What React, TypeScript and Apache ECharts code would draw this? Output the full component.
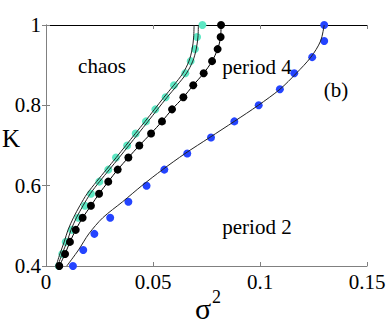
import React, { useEffect, useRef } from "react";
import * as echarts from "echarts";

// ---- data (sigma^2 vs K) ----
const xTicks = [0, 0.05, 0.1, 0.15];
const yTicks = [0.4, 0.6, 0.8, 1];

// blue points (period 2 boundary, simulation)
const blueK = [0.40, 0.44, 0.48, 0.52, 0.56, 0.60, 0.64, 0.68, 0.72, 0.76, 0.80, 0.84, 0.88, 0.92, 0.96, 1.00];
const blueS = [0.0126, 0.0174, 0.0226, 0.0300, 0.0385, 0.0470, 0.0553, 0.0660, 0.0771, 0.0880, 0.0994, 0.1093, 0.1160, 0.1244, 0.1300, 0.1300];
// blue theory curve
const blueLineK = [0.40, 0.44, 0.48, 0.52, 0.56, 0.60, 0.64, 0.68, 0.72, 0.76, 0.80, 0.84, 0.88, 0.92, 0.96, 1.00];
const blueLineS = [0.0097, 0.0152, 0.0200, 0.0265, 0.0358, 0.0448, 0.0545, 0.0650, 0.0765, 0.0880, 0.0992, 0.1093, 0.1170, 0.1238, 0.1283, 0.1300];

// black points (period 4 boundary)
const blackK = [0.40, 0.43, 0.46, 0.49, 0.52, 0.55, 0.58, 0.61, 0.64, 0.67, 0.70, 0.73, 0.76, 0.79, 0.82, 0.85, 0.88, 0.91, 0.94, 0.97, 1.00];
const blackS = [0.0062, 0.0089, 0.0112, 0.0139, 0.0171, 0.0210, 0.0248, 0.0291, 0.0335, 0.0385, 0.0436, 0.0491, 0.0542, 0.0589, 0.0642, 0.0688, 0.0737, 0.0776, 0.0802, 0.0816, 0.0818];

// cyan points (chaos boundary)
const cyanK = [0.40, 0.43, 0.46, 0.49, 0.52, 0.55, 0.58, 0.61, 0.64, 0.67, 0.70, 0.73, 0.76, 0.79, 0.82, 0.85, 0.88, 0.91, 0.94, 0.97, 1.00];
const cyanS = [0.0060, 0.0076, 0.0092, 0.0121, 0.0151, 0.0182, 0.0210, 0.0249, 0.0291, 0.0327, 0.0379, 0.0419, 0.0467, 0.0511, 0.0559, 0.0598, 0.0651, 0.0676, 0.0696, 0.0706, 0.0731];

// double theory lines (chaos boundary)
const edgeK = [0.40, 0.43, 0.46, 0.49, 0.52, 0.55, 0.58, 0.61, 0.64, 0.67, 0.70, 0.73, 0.76, 0.79, 0.82, 0.85, 0.88, 0.91, 0.94, 0.97, 1.00];
const edgeS1 = [0.0047, 0.0065, 0.0085, 0.0103, 0.0128, 0.0158, 0.0192, 0.0236, 0.0282, 0.0328, 0.0373, 0.0418, 0.0463, 0.0507, 0.0551, 0.0597, 0.0640, 0.0668, 0.0683, 0.0690, 0.0692];
const edgeS2 = [0.0055, 0.0075, 0.0098, 0.0117, 0.0142, 0.0173, 0.0207, 0.0250, 0.0296, 0.0342, 0.0387, 0.0432, 0.0477, 0.0521, 0.0566, 0.0613, 0.0657, 0.0686, 0.0702, 0.0710, 0.0712];

const regionLabels = ["chaos", "period 4", "(b)", "period 2"];

const pairs = (xs: number[], ys: number[]) => xs.map((x, i) => [x, ys[i]]);

const FONT = "Liberation Serif";

const txt = (text: string, x: number, y: number, size: number, align = "center") => ({
  type: "text",
  x,
  y,
  style: { text, fontFamily: FONT, fontSize: size, fill: "#000", align, verticalAlign: "middle" },
});

export default function App() {
  const ref = useRef<HTMLDivElement>(null);
  useEffect(() => {
    const chart = echarts.init(ref.current!, undefined, { renderer: "svg" });
    const fmt = (v: number) => String(Number(v.toFixed(2)));
    const gray = "#808080";
    const baseX = {
      type: "value" as const,
      min: xTicks[0],
      max: xTicks[xTicks.length - 1],
      interval: 0.05,
      splitLine: { show: false },
      axisTick: { inside: true, length: 4, lineStyle: { color: gray } },
    };
    const baseY = {
      type: "value" as const,
      min: yTicks[0],
      max: yTicks[yTicks.length - 1],
      interval: 0.2,
      splitLine: { show: false },
      axisTick: { inside: true, length: 4, lineStyle: { color: gray } },
    };
    chart.setOption({
      animation: false,
      backgroundColor: "#fff",
      grid: { left: 46, right: 23, top: 25, bottom: 60, containLabel: false },
      xAxis: [
        {
          ...baseX,
          position: "bottom",
          axisLine: { lineStyle: { color: gray, width: 1 } },
          axisLabel: { color: "#000", fontFamily: FONT, fontSize: 21, margin: 5, formatter: fmt },
        },
        {
          ...baseX,
          position: "top",
          axisLine: { lineStyle: { color: "#000", width: 1 } },
          axisLabel: { show: false },
        },
      ],
      yAxis: [
        {
          ...baseY,
          position: "left",
          axisLine: { lineStyle: { color: gray, width: 1 } },
          axisLabel: { color: "#000", fontFamily: FONT, fontSize: 21, margin: 5, formatter: fmt },
        },
        {
          ...baseY,
          position: "right",
          axisLine: { lineStyle: { color: gray, width: 1 } },
          axisLabel: { show: false },
        },
      ],
      series: [
        {
          type: "scatter",
          data: pairs(cyanS, cyanK),
          symbol: "circle",
          symbolSize: 8,
          itemStyle: { color: "#5ee8c4", opacity: 1 },
          clip: false,
        },
        {
          type: "scatter",
          data: pairs(blueS, blueK),
          symbol: "circle",
          symbolSize: 8,
          itemStyle: { color: "#2444ff", opacity: 1 },
          clip: false,
        },
        {
          type: "line",
          data: pairs(blackS, blackK),
          smooth: 0.3,
          symbol: "circle",
          symbolSize: 8,
          showAllSymbol: true,
          itemStyle: { color: "#000" },
          lineStyle: { color: "#000", width: 1 },
          clip: false,
        },
        {
          type: "line",
          data: pairs(blueLineS, blueLineK),
          smooth: 0.3,
          showSymbol: false,
          lineStyle: { color: "#222", width: 1 },
          clip: false,
        },
        {
          type: "line",
          data: pairs(edgeS1, edgeK),
          smooth: 0.3,
          showSymbol: false,
          lineStyle: { color: "#222", width: 1 },
          clip: false,
        },
        {
          type: "line",
          data: pairs(edgeS2, edgeK),
          smooth: 0.3,
          showSymbol: false,
          lineStyle: { color: "#222", width: 1 },
          clip: false,
        },
      ],
      graphic: [
        txt(regionLabels[0], 102, 66, 21),
        txt(regionLabels[1], 257, 67, 21),
        txt(regionLabels[2], 336, 90, 21),
        txt(regionLabels[3], 257, 227, 21),
        txt("K", 11, 138, 25),
        txt("σ", 203, 308, 30),
        txt("2", 212, 297, 18, "left"),
      ],
    });
    return () => chart.dispose();
  }, []);
  return (
    <div
      ref={ref}
      style={{ position: "fixed", left: 0, top: 0, width: 390, height: 326, background: "#fff" }}
    />
  );
}
